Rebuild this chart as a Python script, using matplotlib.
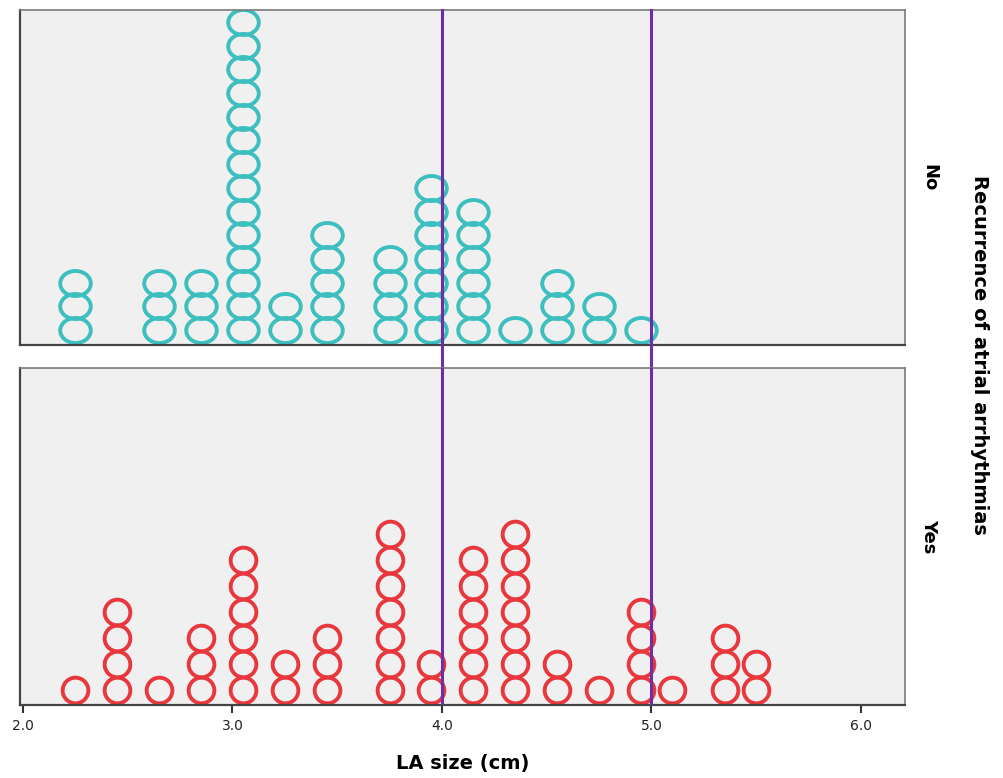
import numpy as np
import matplotlib.pyplot as plt
from matplotlib.path import Path
from matplotlib.transforms import Affine2D

# LA size bins and number of patients stacked in each bin
no_x = [2.25, 2.65, 2.85, 3.05, 3.25, 3.45, 3.75, 3.95, 4.15, 4.35, 4.55, 4.75, 4.95]
no_n = [3, 3, 3, 14, 2, 5, 4, 7, 6, 1, 3, 2, 1]

yes_x = [2.25, 2.45, 2.65, 2.85, 3.05, 3.25, 3.45, 3.75, 3.95, 4.15, 4.35, 4.55,
         4.75, 4.95, 5.10, 5.35, 5.50]
yes_n = [1, 4, 1, 3, 6, 2, 3, 7, 2, 6, 7, 2, 1, 4, 1, 3, 2]

cutoffs = [4.0, 5.0]
xticks = [2.0, 3.0, 4.0, 5.0, 6.0]
groups = ['No', 'Yes']

teal = '#3dbfbf'
red = '#e8383d'
purple = '#6f2da8'
bg = '#f0f0f0'

# slightly squashed ring for the upper panel
ellipse = Path.unit_circle().transformed(Affine2D().scale(1.0, 0.82))


def stack(x, n):
    xs, ys = [], []
    for xi, ni in zip(x, n):
        for k in range(ni):
            xs.append(xi)
            ys.append(k)
    return np.array(xs), np.array(ys)


fig = plt.figure(figsize=(10.04, 7.78), dpi=100)
ax1 = fig.add_axes([20 / 1004, 1 - 345 / 778, 885 / 1004, 335 / 778])
ax2 = fig.add_axes([20 / 1004, 1 - 705 / 778, 885 / 1004, 337 / 778])

xs, ys = stack(no_x, no_n)
ax1.plot(xs, ys, linestyle='none', marker=ellipse, markersize=22,
         markerfacecolor='none', markeredgecolor=teal, markeredgewidth=2.8)
ax1.set_ylim(-15 / 23.7, -15 / 23.7 + 335 / 23.7)

xs, ys = stack(yes_x, yes_n)
ax2.plot(xs, ys, linestyle='none', marker='o', markersize=18.5,
         markerfacecolor='none', markeredgecolor=red, markeredgewidth=2.8)
ax2.set_ylim(-15 / 26, -15 / 26 + 337 / 26)

for ax in (ax1, ax2):
    ax.set_facecolor(bg)
    ax.set_xlim(1.986, 6.21)
    ax.set_yticks([])
    for s in ax.spines.values():
        s.set_color('#7a7a7a')
        s.set_linewidth(1.2)
    ax.spines['left'].set_color('#444444')
    ax.spines['bottom'].set_color('#444444')
    ax.spines['left'].set_linewidth(1.6)
    ax.spines['bottom'].set_linewidth(1.6)

for c in cutoffs:
    ax1.axvline(c, ymin=-0.07, ymax=1, color=purple, lw=2.2, clip_on=False, zorder=5)
    ax2.axvline(c, color=purple, lw=2.2, zorder=5)

ax1.set_xticks([])
ax2.set_xticks(xticks)
ax2.set_xticklabels(['%.1f' % t for t in xticks], fontsize=10, color='#222222')
ax2.tick_params(axis='x', direction='out', length=6, width=1.5, color='#333333', pad=4)
ax2.set_xlabel('LA size (cm)', fontsize=14, fontweight='bold', labelpad=15)

for ax, g in zip((ax1, ax2), groups):
    ax.text(1.027, 0.5, g, transform=ax.transAxes, rotation=-90, ha='center',
            va='center', fontsize=13, fontweight='bold')

fig.text(980 / 1004, 1 - 355 / 778, 'Recurrence of atrial arrhythmias', rotation=-90,
         ha='center', va='center', fontsize=14, fontweight='bold')

fig.savefig('out.png', dpi=100)
